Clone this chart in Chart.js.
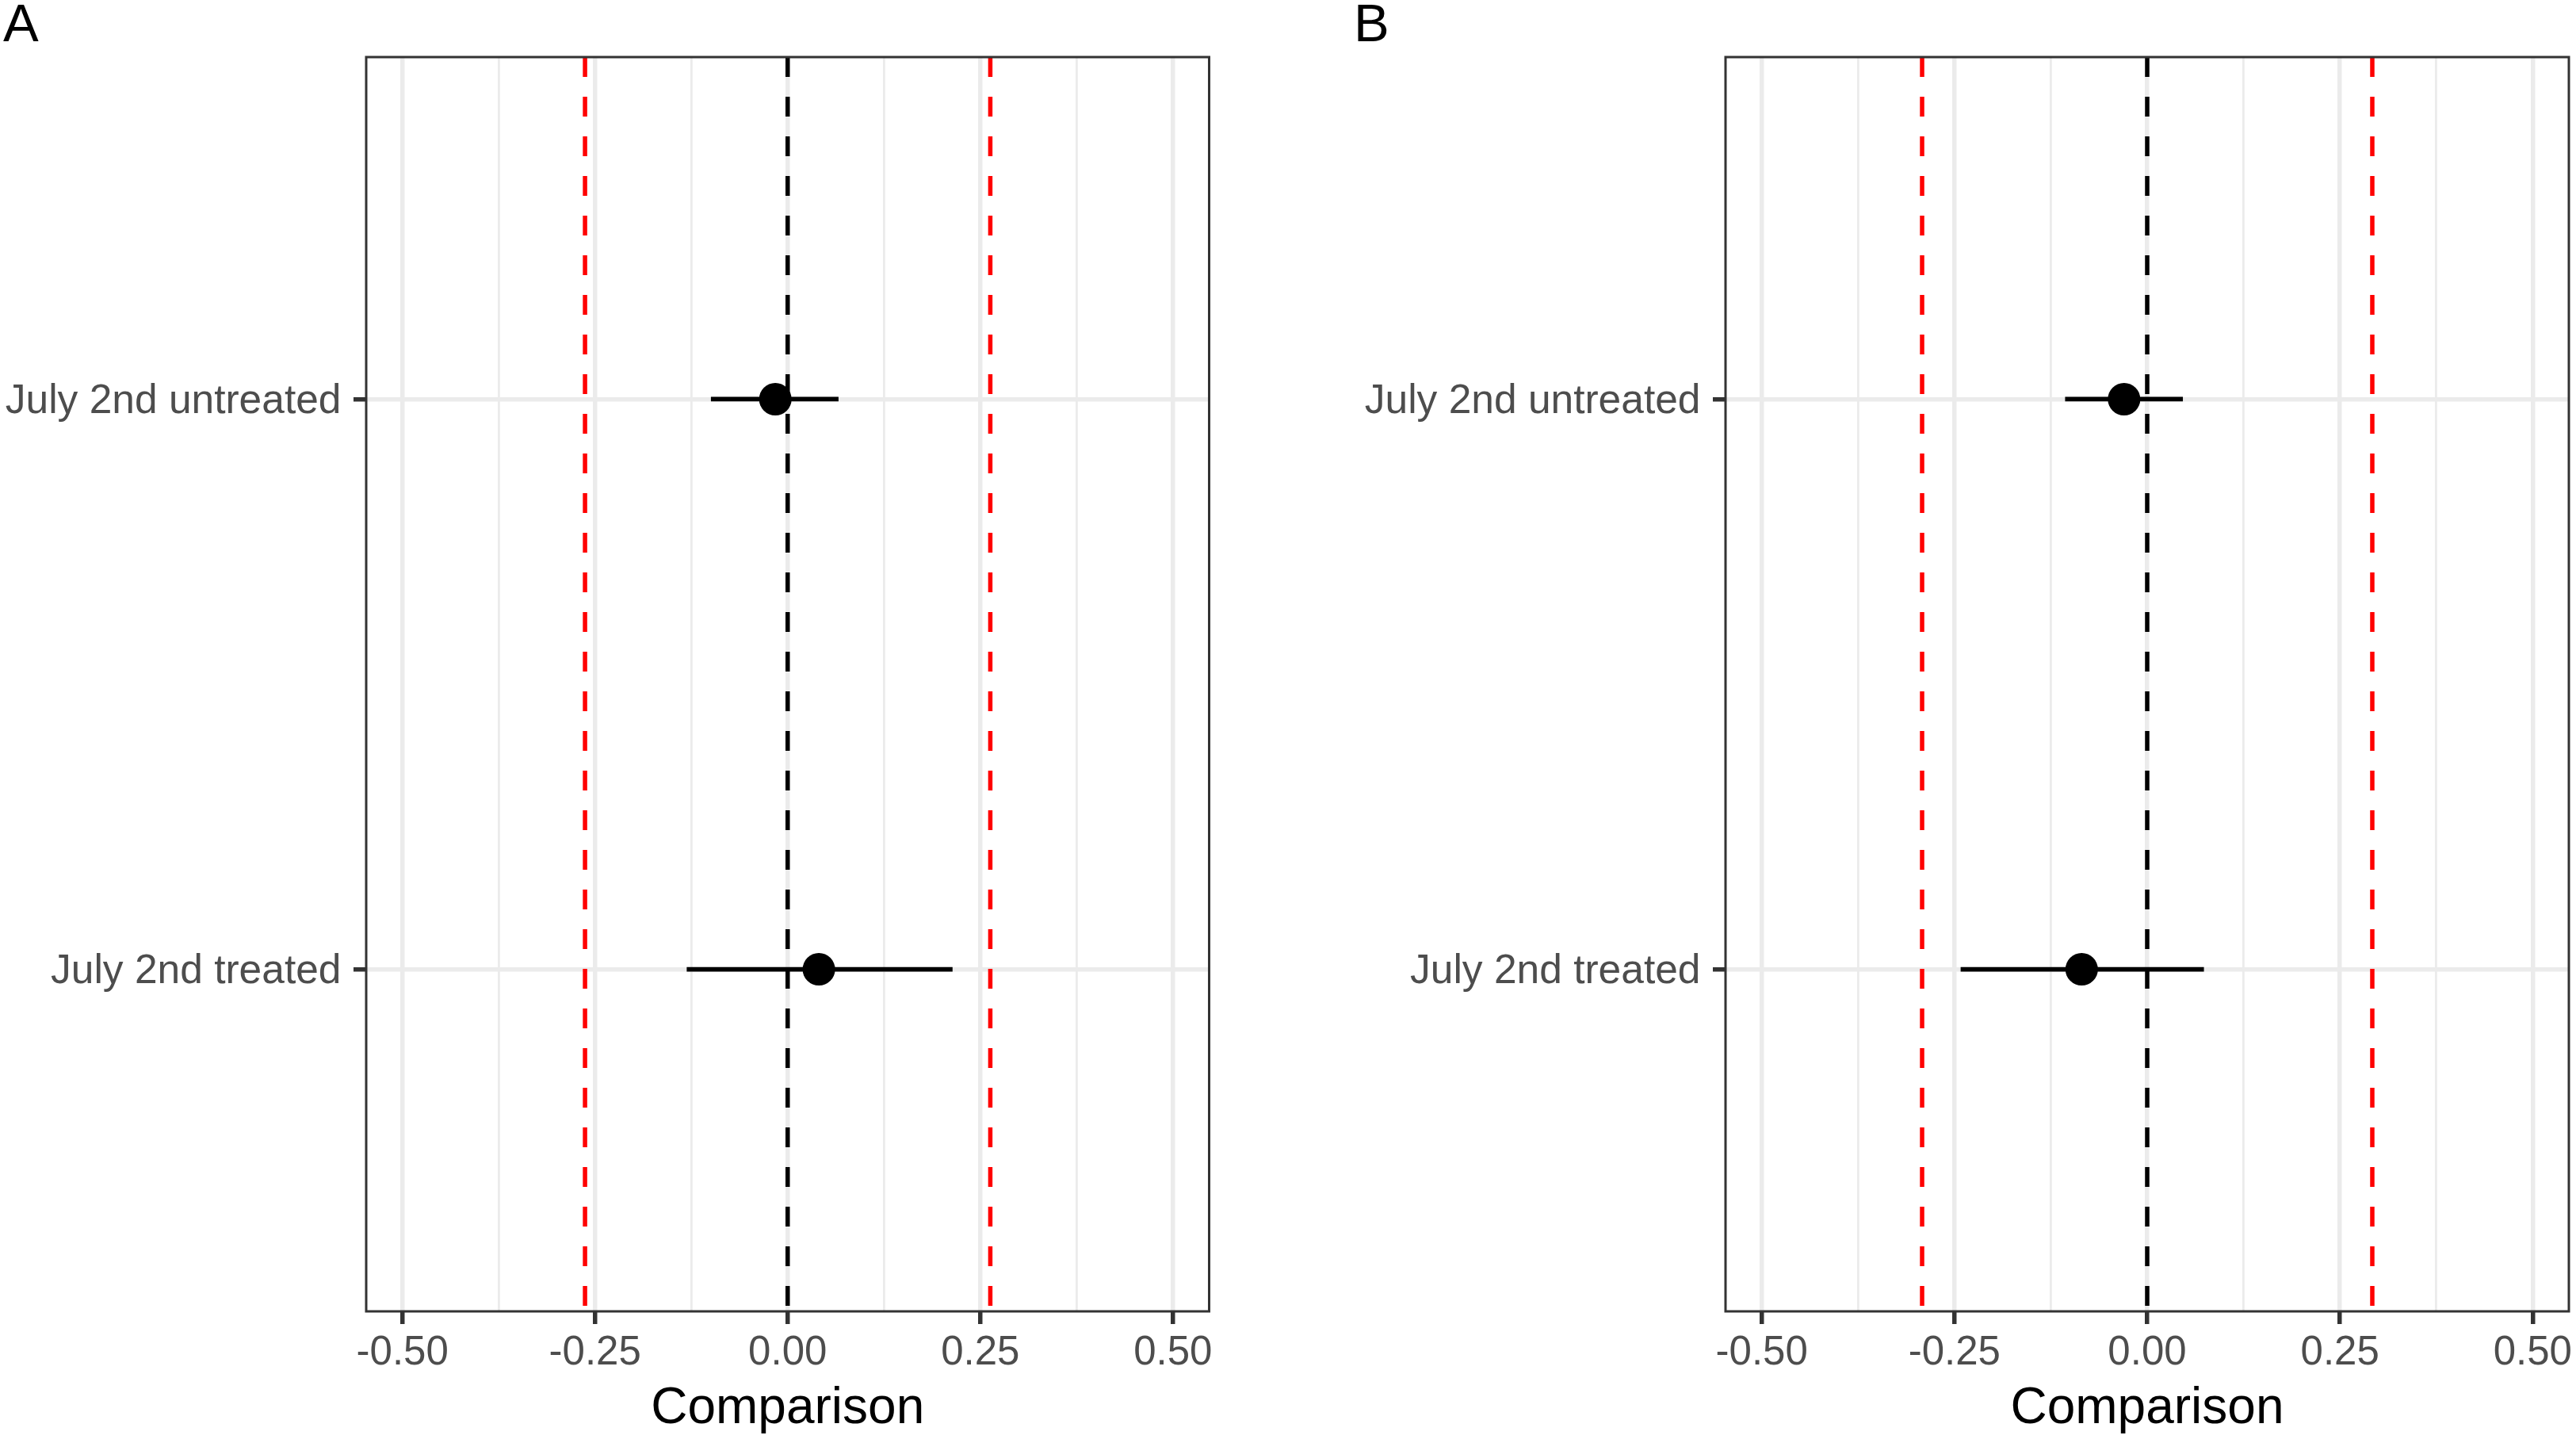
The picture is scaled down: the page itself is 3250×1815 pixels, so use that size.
<!DOCTYPE html>
<html><head><meta charset="utf-8">
<script src="https://cdn.jsdelivr.net/npm/chart.js@4.4.1/dist/chart.umd.min.js"></script>
<style>
html,body{margin:0;padding:0;background:#fff;width:3250px;height:1815px;overflow:hidden;}
canvas{position:absolute;top:0;}
.lab{position:absolute;font-family:"Liberation Sans",Arial,sans-serif;font-size:67px;line-height:67px;color:#000;z-index:2;}
</style></head><body>
<canvas id="cA" width="1625" height="1815" style="left:0"></canvas>
<canvas id="cB" width="1625" height="1815" style="left:1625px"></canvas>
<div class="lab" style="left:4px;top:-5px">A</div>
<div class="lab" style="left:1708px;top:-5px">B</div>
<script>
// ---- data ----
const categories = ['July 2nd treated', 'July 2nd untreated'];
const estA = [0.0405, -0.016];
const loA  = [-0.131, -0.0996];
const hiA  = [0.214, 0.066];
const estB = [-0.085, -0.030];
const loB  = [-0.242, -0.1065];
const hiB  = [0.0736, 0.0463];
const boundA = 0.263;
const boundB = 0.292;
const xTicks = [-0.5, -0.375, -0.25, -0.125, 0, 0.125, 0.25, 0.375, 0.5];
const xMajor = [-0.5, -0.25, 0, 0.25, 0.5];
const xTickLabels = ['-0.50', '-0.25', '0.00', '0.25', '0.50'];
const xTitle = 'Comparison';
const xMin = -0.547, xMax = 0.547;
const yMin = 0.4, yMax = 2.6;

Chart.defaults.font.family = '"Liberation Sans", Arial, sans-serif';

const isMajor = v => xMajor.some(m => Math.abs(m - v) < 1e-9);
const labelFor = v => { const i = xMajor.findIndex(m => Math.abs(m - v) < 1e-9); return i >= 0 ? xTickLabels[i] : ''; };

const frame = {
  id: 'frame',
  afterDatasetsDraw(chart) {
    const {ctx, chartArea: a} = chart;
    ctx.save();
    ctx.strokeStyle = '#333333';
    ctx.lineWidth = 3;
    ctx.strokeRect(a.left, a.top, a.right - a.left, a.bottom - a.top);
    ctx.restore();
  }
};

function vline(x, color) {
  return { type: 'scatter', showLine: true, pointRadius: 0, borderColor: color, borderWidth: 5.5,
    borderDash: [25, 25], borderCapStyle: 'butt', order: 3,
    data: [{x: x, y: yMax}, {x: x, y: yMin}] };
}

function makePanel(id, est, lo, hi, bound, yWidth, padRight) {
  const datasets = [];
  datasets.push({ type: 'scatter', order: 0, pointRadius: 20.5, pointHoverRadius: 20.5, borderWidth: 0,
    backgroundColor: '#000000', data: est.map((v, i) => ({x: v, y: i + 1})) });
  categories.forEach((c, i) => {
    datasets.push({ type: 'scatter', order: 1, showLine: true, pointRadius: 0, borderColor: '#000000',
      borderWidth: 5.7, borderCapStyle: 'butt',
      data: [{x: lo[i], y: i + 1}, {x: hi[i], y: i + 1}] });
  });
  datasets.push(vline(-bound, '#FF0000'));
  datasets.push(vline(bound, '#FF0000'));
  datasets.push(vline(0, '#000000'));

  return new Chart(document.getElementById(id), {
    type: 'scatter',
    data: { datasets },
    options: {
      responsive: false, animation: false, devicePixelRatio: 1,
      layout: { autoPadding: false, padding: { left: 0, right: padRight, top: 72, bottom: 0 } },
      plugins: { legend: { display: false }, tooltip: { enabled: false } },
      scales: {
        x: {
          type: 'linear', position: 'bottom', min: xMin, max: xMax,
          afterBuildTicks: s => { s.ticks = xTicks.map(v => ({value: v})); },
          afterFit: s => { s.height = 161; s.paddingLeft = 0; s.paddingRight = 0; },
          border: { display: false },
          grid: {
            color: '#EBEBEB',
            lineWidth: c => (c.tick && isMajor(c.tick.value)) ? 5.5 : 2.8,
            drawTicks: true, tickLength: 16,
            tickColor: c => (c.tick && isMajor(c.tick.value)) ? '#333333' : 'rgba(0,0,0,0)',
            tickWidth: 5.5
          },
          ticks: { autoSkip: false, maxRotation: 0, minRotation: 0, padding: 6, color: '#4D4D4D',
            font: { size: 51 }, callback: v => labelFor(v) },
          title: { display: true, text: xTitle, color: '#000000', font: { size: 64 }, padding: { top: 0, bottom: -1 } }
        },
        y: {
          type: 'linear', position: 'left', min: yMin, max: yMax,
          afterBuildTicks: s => { s.ticks = categories.map((c, i) => ({value: i + 1})); },
          afterFit: s => { s.width = yWidth; s.paddingTop = 0; s.paddingBottom = 0; },
          border: { display: false },
          grid: { color: '#EBEBEB', lineWidth: 5.5, drawTicks: true, tickLength: 16, tickColor: '#333333', tickWidth: 5.5 },
          ticks: { autoSkip: false, padding: 15.5, labelOffset: 3, color: '#4D4D4D', font: { size: 51.5 },
            callback: v => categories[Math.round(v) - 1] || '' }
        }
      }
    },
    plugins: [frame]
  });
}

makePanel('cA', estA, loA, hiA, boundA, 462, 99.5);
makePanel('cB', estB, loB, hiB, boundB, 552, 9);
</script>
</body></html>
